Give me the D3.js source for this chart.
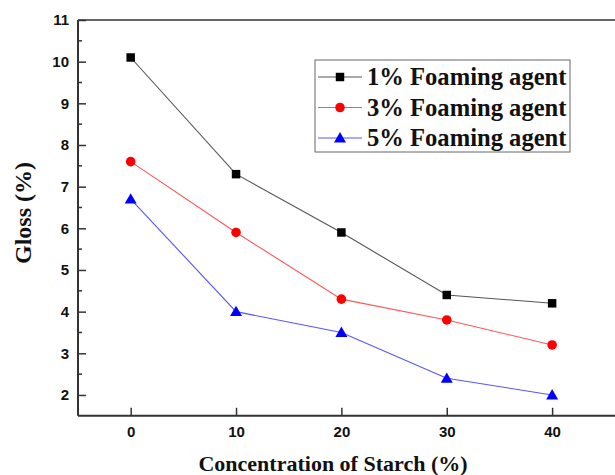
<!DOCTYPE html>
<html><head><meta charset="utf-8">
<script src="https://cdn.jsdelivr.net/npm/d3@7"></script>
<style>body{margin:0;background:#fff;overflow:hidden}svg{display:block;overflow:hidden}</style>
</head><body>
<svg id="c" width="615" height="475"></svg>
<script>
const starch = [0, 10, 20, 30, 40];
const gloss1 = [10.1, 7.3, 5.9, 4.4, 4.2];
const gloss3 = [7.6, 5.9, 4.3, 3.8, 3.2];
const gloss5 = [6.7, 4.0, 3.5, 2.4, 2.0];
const seriesNames = ["1% Foaming agent", "3% Foaming agent", "5% Foaming agent"];
const yTicks = [2, 3, 4, 5, 6, 7, 8, 9, 10, 11];
const yMinor = [2.5, 3.5, 4.5, 5.5, 6.5, 7.5, 8.5, 9.5, 10.5];
const xTicks = [0, 10, 20, 30, 40];

const svg = d3.select("#c");
const L = 78, T = 20, B = 415.8;
const x = d3.scaleLinear().domain([-5, 45]).range([L, 604.8]);
const y = d3.scaleLinear().domain([1.5, 11]).range([B, T]);

const axisColor = "#333";
svg.append("line").attr("x1", L).attr("x2", 615).attr("y1", T).attr("y2", T)
  .attr("stroke", axisColor).attr("stroke-width", 1.6);

// X axis
const gx = svg.append("g").attr("transform", `translate(0,${B})`)
  .call(d3.axisBottom(x).tickValues(xTicks).tickSize(-8).tickSizeOuter(0).tickPadding(11).tickFormat(d3.format("d")));
gx.select(".domain").remove();
gx.append("line").attr("x1", L).attr("x2", 615).attr("stroke", axisColor).attr("stroke-width", 2);
gx.selectAll(".tick line").attr("stroke", axisColor).attr("stroke-width", 1.5);
gx.selectAll(".tick text").attr("y", 11).attr("font-family", "Liberation Sans, Arial, sans-serif")
  .attr("font-weight", "bold").attr("font-size", 15).attr("fill", "#111");

// Y axis
const gy = svg.append("g").attr("transform", `translate(${L},0)`)
  .call(d3.axisLeft(y).tickValues(yTicks).tickSize(-8).tickSizeOuter(0).tickPadding(9).tickFormat(d3.format("d")));
gy.select(".domain").remove();
gy.append("line").attr("y1", T).attr("y2", B).attr("stroke", axisColor).attr("stroke-width", 2);
gy.selectAll(".tick line").attr("stroke", axisColor).attr("stroke-width", 1.5);
gy.selectAll(".tick text").attr("x", -9).attr("font-family", "Liberation Sans, Arial, sans-serif")
  .attr("font-weight", "bold").attr("font-size", 15).attr("fill", "#111");
gy.selectAll(".minor").data(yMinor).enter().append("line")
  .attr("x1", 0).attr("x2", 4).attr("y1", d => y(d)).attr("y2", d => y(d))
  .attr("stroke", axisColor).attr("stroke-width", 1.5);

// Titles
svg.append("text").attr("x", 333).attr("y", 471).attr("text-anchor", "middle")
  .attr("font-family", "Liberation Serif, Times New Roman, serif").attr("font-weight", "bold")
  .attr("font-size", 22).attr("fill", "#111").text("Concentration of Starch (%)");
svg.append("text").attr("transform", "translate(31,213) rotate(-90)").attr("text-anchor", "middle")
  .attr("font-family", "Liberation Serif, Times New Roman, serif").attr("font-weight", "bold")
  .attr("font-size", 24).attr("fill", "#111").text("Gloss (%)");

const series = [
  {name: seriesNames[0], vals: gloss1, line: "#555", fill: "#000", shape: d3.symbolSquare, size: 72},
  {name: seriesNames[1], vals: gloss3, line: "#ff5555", fill: "#ff0000", shape: d3.symbolCircle, size: 72},
  {name: seriesNames[2], vals: gloss5, line: "#5555ff", fill: "#0000ff", shape: d3.symbolTriangle, size: 62},
];

const line = d3.line().x((d, i) => x(starch[i])).y(d => y(d));
series.forEach(s => {
  svg.append("path").attr("d", line(s.vals)).attr("fill", "none")
    .attr("stroke", s.line).attr("stroke-width", 1.1);
  svg.selectAll(null).data(s.vals).enter().append("path")
    .attr("d", d3.symbol().type(s.shape).size(s.size))
    .attr("transform", (d, i) => `translate(${x(starch[i])},${y(d) + (s.shape === d3.symbolTriangle ? 1 : 0)})`)
    .attr("fill", s.fill);
});

// Legend
const lg = svg.append("g");
lg.append("rect").attr("x", 315).attr("y", 60).attr("width", 255).attr("height", 92)
  .attr("fill", "#fff").attr("stroke", "#666").attr("stroke-width", 1);
series.forEach((s, i) => {
  const cy = 77 + i * 30.5;
  lg.append("line").attr("x1", 318).attr("x2", 362).attr("y1", cy).attr("y2", cy)
    .attr("stroke", s.line).attr("stroke-width", 1.1);
  lg.append("path").attr("d", d3.symbol().type(s.shape).size(s.size))
    .attr("transform", `translate(340,${cy + (s.shape === d3.symbolTriangle ? 1 : 0)})`).attr("fill", s.fill);
  lg.append("text").attr("x", 367).attr("y", cy + 8).attr("font-family", "Liberation Serif, Times New Roman, serif")
    .attr("font-weight", "bold").attr("font-size", 24.6).attr("fill", "#111").text(s.name);
});
</script>
</body></html>
